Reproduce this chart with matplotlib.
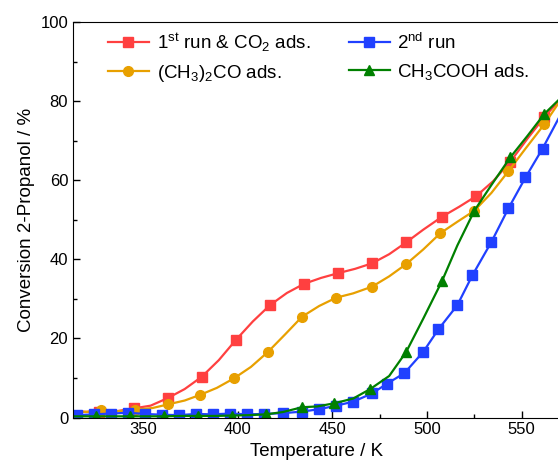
import matplotlib.pyplot as plt
from matplotlib.ticker import MultipleLocator

plt.rcParams['font.family'] = ['Liberation Sans', 'DejaVu Sans']
plt.rcParams['mathtext.fontset'] = 'custom'
plt.rcParams['mathtext.rm'] = 'Liberation Sans'
plt.rcParams['mathtext.it'] = 'Liberation Sans:italic'

# 1st run & CO2 ads.
T_red = [313, 327, 336, 345, 354, 363, 372, 381, 390, 399, 408, 417, 426, 435, 444,
         453, 462, 471, 480, 489, 498, 508, 517, 526, 535, 544, 553, 562, 571]
c_red = [1.5, 1.4, 1.6, 2.3, 3.0, 4.9, 7.2, 10.3, 14.5, 19.6, 24.3, 28.4, 31.5, 33.8, 35.3,
         36.5, 37.6, 39.0, 41.3, 44.3, 47.5, 50.8, 53.3, 56.0, 59.8, 64.7, 70.5, 76.0, 80.8]

# (CH3)2CO ads.
T_org = [313, 320, 328, 337, 346, 355, 363, 372, 380, 389, 398, 407, 416, 425, 434,
         443, 452, 461, 471, 480, 489, 498, 507, 516, 525, 534, 543, 552, 562, 571]
c_org = [1.6, 1.4, 2.0, 1.6, 2.0, 2.4, 3.3, 4.3, 5.7, 7.5, 9.9, 12.8, 16.6, 21.0, 25.5,
         28.2, 30.3, 31.4, 33.1, 35.7, 38.8, 42.5, 46.6, 49.5, 52.3, 56.8, 62.3, 68.0, 74.2, 80.6]

# 2nd run
T_blu = [315, 324, 333, 342, 351, 360, 369, 378, 387, 396, 405, 414, 424, 434, 443,
         452, 461, 471, 479, 488, 498, 506, 516, 524, 534, 543, 552, 561, 571]
c_blu = [0.6, 0.8, 1.0, 1.2, 0.9, 0.7, 0.6, 0.9, 0.8, 1.0, 0.8, 0.9, 1.1, 1.5, 2.1,
         3.0, 4.0, 6.1, 8.6, 11.2, 16.6, 22.3, 28.4, 36.0, 44.4, 52.9, 60.7, 68.0, 77.0]

# CH3COOH ads.
T_grn = [313, 325, 334, 343, 352, 361, 370, 379, 388, 397, 406, 415, 424, 434, 442,
         451, 461, 470, 480, 489, 498, 508, 516, 525, 534, 544, 553, 562, 571]
c_grn = [0.3, 0.3, 0.3, 0.3, 0.3, 0.3, 0.4, 0.4, 0.4, 0.5, 0.6, 0.8, 1.4, 2.6, 2.8,
         3.6, 4.8, 7.2, 10.5, 16.6, 25.0, 34.6, 43.5, 52.3, 58.8, 65.8, 71.2, 76.8, 81.0]

fig = plt.figure(figsize=(5.58, 4.73), dpi=100)
ax = fig.add_axes([0.1308, 0.1173, 0.872, 0.836])

lw = 1.6
l_red, = ax.plot(T_red, c_red, color='#FF4040', lw=lw, marker='s', ms=6.5, markevery=(1, 2),
                 label=r'1$^{\rm st}$ run & CO$_2$ ads.')
l_org, = ax.plot(T_org, c_org, color='#E8A000', lw=lw, marker='o', ms=7, markevery=(2, 2),
                 label=r'(CH$_3$)$_2$CO ads.')
l_blu, = ax.plot(T_blu, c_blu, color='#2040FF', lw=lw, marker='s', ms=6.5,
                 markevery=list(range(len(T_blu) - 1)), label=r'2$^{\rm nd}$ run')
l_grn, = ax.plot(T_grn, c_grn, color='#008000', lw=lw, marker='^', ms=7.5, markevery=(1, 2),
                 label=r'CH$_3$COOH ads.')

ax.set_xlim(313, 570)
ax.set_ylim(0, 100)
ax.xaxis.set_major_locator(MultipleLocator(50))
ax.xaxis.set_minor_locator(MultipleLocator(25))
ax.yaxis.set_major_locator(MultipleLocator(20))
ax.yaxis.set_minor_locator(MultipleLocator(10))
ax.tick_params(which='both', direction='in', labelsize=12)
ax.tick_params(which='major', length=5, width=1)
ax.tick_params(which='minor', length=3, width=1)
ax.set_xlabel('Temperature / K', fontsize=13.5)
ax.set_ylabel('Conversion 2-Propanol / %', fontsize=13.5)

ax.legend(handles=[l_red, l_org, l_blu, l_grn], ncol=2, frameon=False, fontsize=13.5,
          loc='upper left', bbox_to_anchor=(0.037, 1.02), handlelength=2.2,
          handletextpad=0.4, columnspacing=2.05, labelspacing=0.5)

fig.savefig('out.png', dpi=100)
